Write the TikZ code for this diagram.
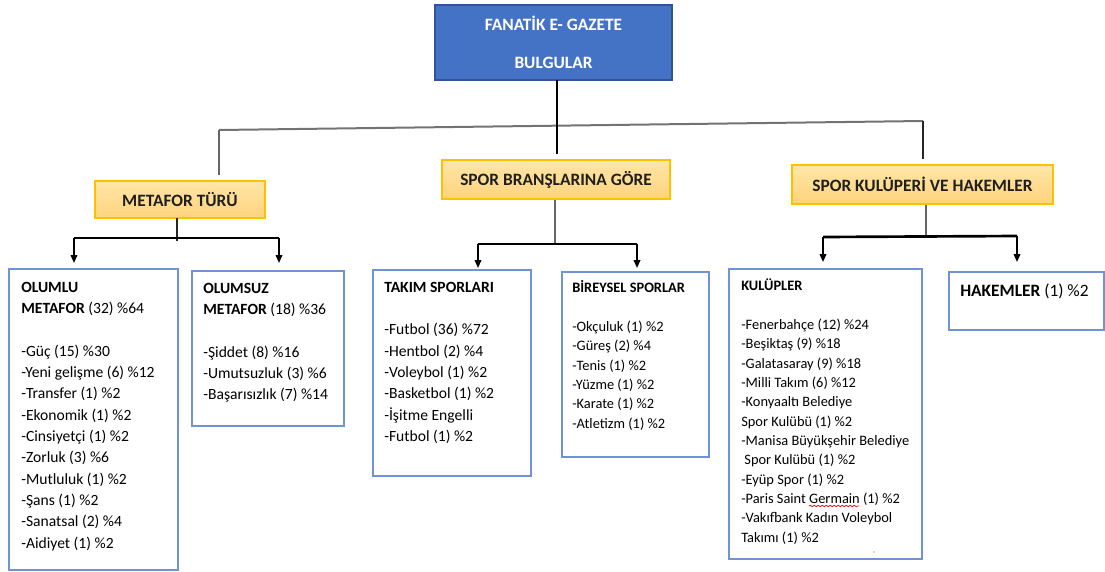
\documentclass[tikz,border=0pt]{standalone}
\usepackage{fontspec}
\setmainfont{Carlito}
\usetikzlibrary{arrows.meta,fit,decorations.pathmorphing}
\definecolor{topblue}{HTML}{4472C4}
\definecolor{topedge}{HTML}{2F5597}
\definecolor{orgedge}{HTML}{FFC000}
\definecolor{orgtop}{HTML}{FFE6A8}
\definecolor{orgbot}{HTML}{FFD37C}
\definecolor{boxedge}{HTML}{6F93D6}
\begin{document}
\begin{tikzpicture}[x=0.75pt,y=-0.75pt,
  topbox/.style={draw=topedge,fill=topblue,line width=0.8pt,inner sep=0pt,
    text=white,align=center,font=\fontsize{13}{28.5}\selectfont\bfseries},
  orgbox/.style={draw=orgedge,line width=1pt,inner sep=0pt,top color=orgtop,bottom color=orgbot,
    text=black!88,font=\fontsize{13}{15}\selectfont\bfseries},
  lbox/.style={draw=boxedge,line width=1pt,inner sep=0pt},
  txtA/.style={anchor=north west,inner sep=0pt,align=left,font=\fontsize{11.7}{16}\selectfont},
  txtB/.style={anchor=north west,inner sep=0pt,align=left,font=\fontsize{10.8}{14.5}\selectfont},
  txtC/.style={anchor=north west,inner sep=0pt,align=left,font=\fontsize{13}{16}\selectfont},
  topbar/.style={draw=black!55,line width=1.5pt},
  vgray/.style={draw=black!60,line width=1pt},
  vmain/.style={draw=black,line width=1.5pt},
  vthin/.style={draw=black!85,line width=0.9pt},
  subbar/.style={draw=black,line width=2pt},
  arr/.style={draw=black,line width=1.2pt,-{Triangle[length=6pt,width=5pt]}}
]
\useasboundingbox (0,0) rectangle (1105,571);

% top
\node[topbox,minimum width=177.75pt,minimum height=56.25pt] (top) at (553.5,42.5) {FANATİK E- GAZETE\\BULGULAR};

% second level
\node[orgbox,minimum width=127.5pt,minimum height=27.75pt] (mt) at (180,199.5) {METAFOR TÜRÜ};
\node[orgbox,minimum width=171pt,minimum height=29.25pt] (sb) at (556,179.5) {SPOR BRANŞLARINA GÖRE};
\node[orgbox,minimum width=195.75pt,minimum height=29.25pt] (sk) at (922.5,184.5) {SPOR KULÜPERİ VE HAKEMLER};

% connectors from top
\coordinate (topOut) at (557,80);
\coordinate (sbIn) at (557,154);
\coordinate (barL) at (219,130);
\coordinate (barR) at (923,121);
\coordinate (mtIn) at (219,175);
\coordinate (skIn) at (923,159);
\draw[topbar] (barL) -- (barR);
\draw[vgray] (barL) -- (mtIn);
\draw[vthin] (barR) -- (skIn);
\draw[vmain] (topOut) -- (sbIn);

% third level boxes
\node[lbox,fit={(9,269) (178,570)}] (olumlu) {};
\node[lbox,fit={(192,271) (344,426)}] (olumsuz) {};
\node[lbox,fit={(373,270) (531,476)}] (takim) {};
\node[lbox,fit={(562,272) (709,457)}] (bireysel) {};
\node[lbox,fit={(729,269) (922,559)}] (kulup) {};
\node[lbox,fit={(949,272) (1104,330)}] (hakem) {};

% connectors below METAFOR TÜRÜ
\coordinate (mtOut) at (177,218);
\coordinate (mtJ) at (177,241);
\coordinate (mtBL) at (74,238);
\coordinate (mtBR) at (279,238);
\coordinate (olA) at (74,263);
\coordinate (osA) at (279,263);
\draw[vthin] (mtOut) -- (mtJ);
\draw[subbar] (mtBL) -- (mtBR);
\draw[arr] (mtBL) -- (olA);
\draw[arr] (mtBR) -- (osA);

% connectors below SPOR BRANSLARINA
\coordinate (sbOut) at (555,200);
\coordinate (sbJ) at (555,244);
\coordinate (sbBL) at (478,244);
\coordinate (sbBR) at (637,244);
\coordinate (tkA) at (478,268);
\coordinate (brA) at (637,268);
\draw[vgray] (sbOut) -- (sbJ);
\draw[subbar] (sbBL) -- (sbBR);
\draw[arr] (sbBL) -- (tkA);
\draw[arr] (sbBR) -- (brA);

% connectors below SPOR KULUPERI
\coordinate (skOut) at (926,205);
\coordinate (skJ) at (926,236);
\coordinate (skBL) at (823,237);
\coordinate (skBR) at (1017,236);
\coordinate (kuA) at (823,262);
\coordinate (hkA) at (1017,262);
\draw[vgray] (skOut) -- (skJ);
\draw[subbar] (skBL) -- (skBR);
\draw[arr] (skBL) -- (kuA);
\draw[arr] (skBR) -- (hkA);

% texts
\node[txtA] (olumluT) at (21,277.3) {\rule{0pt}{11pt}\textbf{OLUMLU}\\
\textbf{METAFOR} (32) \%64\\
\mbox{}\\
-Güç (15) \%30\\
-Yeni gelişme (6) \%12\\
-Transfer (1) \%2\\
-Ekonomik (1) \%2\\
-Cinsiyetçi (1) \%2\\
-Zorluk (3) \%6\\
-Mutluluk (1) \%2\\
-Şans (1) \%2\\
-Sanatsal (2) \%4\\
-Aidiyet (1) \%2};

\node[txtA] (olumsuzT) at (203,278.3) {\rule{0pt}{11pt}\textbf{OLUMSUZ}\\
\textbf{METAFOR} (18) \%36\\
\mbox{}\\
-Şiddet (8) \%16\\
-Umutsuzluk (3) \%6\\
-Başarısızlık (7) \%14};

\node[txtA] (takimT) at (384,277.3) {\rule{0pt}{11pt}\textbf{TAKIM SPORLARI}\\
\mbox{}\\
-Futbol (36) \%72\\
-Hentbol (2) \%4\\
-Voleybol (1) \%2\\
-Basketbol (1) \%2\\
-İşitme Engelli\\
-Futbol (1) \%2};

\node[txtB] (bireyselT) at (572,277.9) {\rule{0pt}{11pt}\textbf{BİREYSEL SPORLAR}\\
\mbox{}\\
-Okçuluk (1) \%2\\
-Güreş (2) \%4\\
-Tenis (1) \%2\\
-Yüzme (1) \%2\\
-Karate (1) \%2\\
-Atletizm (1) \%2};

\node[txtB] (kulupT) at (741,275.9) {\rule{0pt}{11pt}\textbf{KULÜPLER}\\
\mbox{}\\
-Fenerbahçe (12) \%24\\
-Beşiktaş (9) \%18\\
-Galatasaray (9) \%18\\
-Milli Takım (6) \%12\\
-Konyaaltı Belediye\\
Spor Kulübü (1) \%2\\
-Manisa Büyükşehir Belediye\\
\hspace*{0.22em}Spor Kulübü (1) \%2\\
-Eyüp Spor (1) \%2\\
-Paris Saint Germain (1) \%2\\
-Vakıfbank Kadın Voleybol\\
Takımı (1) \%2};

\node[txtC] (hakemT) at (960,282) {\rule{0pt}{11pt}\textbf{HAKEMLER} (1) \%2};

% spell-check underline and stray dot
\draw[red,line width=0.5pt,decorate,decoration={snake,amplitude=0.6pt,segment length=3pt}] (809,506) -- (859,506);
\fill[black!70] (874,552) circle (0.7);
\end{tikzpicture}
\end{document}
